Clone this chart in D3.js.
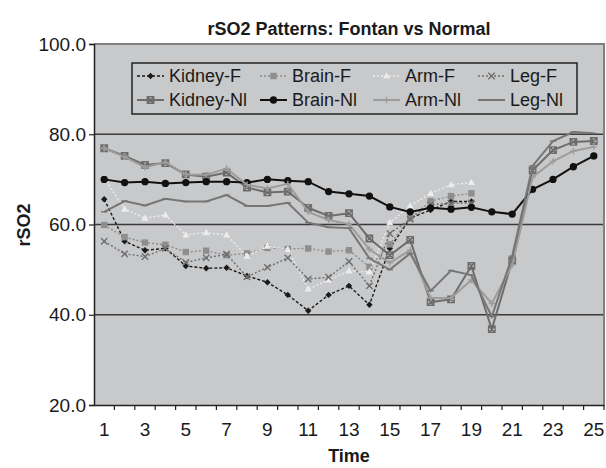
<!DOCTYPE html>
<html>
<head>
<meta charset="utf-8">
<script src="https://d3js.org/d3.v7.min.js"></script>
<style>
  body { margin: 0; background: #ffffff; }
  text { font-family: "Liberation Sans", Arial, sans-serif; }
</style>
</head>
<body>
<div id="chart"></div>
<script>
// categories (time points)
var timeLabels = [1, 2, 3, 4, 5, 6, 7, 8, 9, 10, 11, 12, 13, 14, 15, 16, 17, 18, 19, 20, 21, 22, 23, 24, 25];
var yTicks = [20, 40, 60, 80, 100];

// Fontan series
var kidneyF = [65.6, 56.3, 54.3, 54.7, 50.8, 50.3, 50.4, 48.6, 47.2, 44.4, 40.9, 44.4, 46.4, 42.2, 54.7, 61.4, 63.2, 65.1, 65.1, null, null, null, null, null, null];
var brainF  = [59.9, 57.2, 56.0, 55.5, 53.9, 54.2, 53.2, 53.6, 54.8, 54.6, 54.7, 54.0, 54.3, 50.6, 55.6, 61.4, 65.2, 66.3, 66.9, null, null, null, null, null, null];
var armF    = [70.3, 63.4, 61.4, 62.1, 57.7, 58.2, 57.7, 53.0, 55.2, 54.5, 45.7, 47.7, 49.7, 49.5, 60.4, 64.1, 66.9, 68.8, 69.3, null, null, null, null, null, null];
var legF    = [56.3, 53.5, 52.9, 54.7, 51.6, 52.6, 53.4, 48.4, 50.5, 52.6, 47.9, 48.3, 51.8, 46.4, 58.0, 61.2, 64.4, 64.7, 64.8, null, null, null, null, null, null];

// Normal series
var kidneyNl = [76.9, 75.2, 73.2, 73.6, 71.1, 70.6, 71.5, 68.2, 67.1, 67.3, 63.7, 61.9, 62.5, 56.9, 53.2, 56.6, 42.8, 43.4, 50.8, 36.8, 52.0, 72.0, 76.5, 78.3, 78.5];
var brainNl  = [70.0, 69.3, 69.5, 69.1, 69.3, 69.5, 69.5, 69.3, 70.0, 69.7, 69.5, 67.3, 66.8, 66.3, 63.9, 62.8, 63.7, 63.4, 63.8, 62.8, 62.3, 67.8, 70.0, 72.8, 75.2];
var armNl    = [76.9, 75.0, 72.7, 73.8, 71.1, 71.0, 72.4, 68.8, 68.0, 69.0, 62.8, 61.0, 60.1, 54.5, 51.5, 54.3, 43.7, 43.7, 47.7, 42.5, 51.0, 70.5, 74.0, 76.3, 77.2];
var legNl    = [62.8, 65.2, 64.2, 65.7, 65.1, 65.1, 66.5, 64.1, 64.1, 64.8, 60.4, 59.4, 59.2, 52.5, 50.0, 53.6, 45.3, 49.8, 48.8, 39.6, 53.0, 73.0, 78.5, 80.5, 80.2];

var seriesNames = ["Kidney-F", "Brain-F", "Arm-F", "Leg-F", "Kidney-Nl", "Brain-Nl", "Arm-Nl", "Leg-Nl"];
var seriesValues = [kidneyF, brainF, armF, legF, kidneyNl, brainNl, armNl, legNl];

// look of each series
var seriesStyle = [
    { color: "#1a1a1a", dash: "3,2", marker: "diamond" },
    { color: "#8e8e8e", dash: "2,2", marker: "square" },
    { color: "#ececec", dash: "2,2", marker: "triangle" },
    { color: "#6f6f6f", dash: "2,2", marker: "x" },
    { color: "#6c6c6c", dash: null,  marker: "xsquare" },
    { color: "#111111", dash: null,  marker: "circle" },
    { color: "#9c9c9c", dash: null,  marker: "plus" },
    { color: "#767676", dash: null,  marker: "dash" }
];

var margin = { top: 44, right: 2, bottom: 63, left: 94 },
    width = 606 - margin.left - margin.right,
    height = 468 - margin.top - margin.bottom;

var svg = d3.select("#chart").append("svg")
    .attr("width", 606)
    .attr("height", 468);

var g = svg.append("g")
    .attr("transform", `translate(${margin.left},${margin.top})`);

var x = d3.scaleBand()
    .domain(timeLabels)
    .range([0, width]);

var y = d3.scaleLinear()
    .domain([20, 100])
    .range([height, 0]);

// plot background
g.append("rect")
    .attr("width", width)
    .attr("height", height)
    .attr("fill", "#c8c9cb");

// grid lines
g.selectAll(".grid")
    .data(yTicks.filter(function (d) { return d > 20 && d < 100; }))
    .enter().append("line")
    .attr("x1", 0)
    .attr("x2", width)
    .attr("y1", function (d) { return y(d); })
    .attr("y2", function (d) { return y(d); })
    .attr("stroke", "#3a3a3a")
    .attr("stroke-width", 1.5);

// top and right border
g.append("path")
    .attr("d", `M0,${y(100)}H${width}V${height}`)
    .attr("fill", "none")
    .attr("stroke", "#808080")
    .attr("stroke-width", 2);

// y axis
var yAxis = g.append("g")
    .call(d3.axisLeft(y).tickValues(yTicks).tickSize(5).tickFormat(d3.format(".1f")));
yAxis.select(".domain").attr("stroke", "#222").attr("stroke-width", 1.5);
yAxis.selectAll(".tick line").attr("stroke", "#222").attr("stroke-width", 1.2);
yAxis.selectAll("text")
    .attr("x", -8)
    .style("font-size", "19px")
    .style("font-family", "Liberation Sans, Arial, sans-serif")
    .attr("fill", "#1a1a1a");

// x axis, ticks between categories
var xAxis = g.append("g")
    .attr("transform", `translate(0,${height})`)
    .call(d3.axisBottom(x).tickSize(0).tickFormat(function (d) { return d % 2 == 1 ? d : ""; }));
xAxis.select(".domain").attr("stroke", "#222").attr("stroke-width", 1.5);
xAxis.selectAll("text")
    .attr("dy", "1.0em")
    .attr("y", 12)
    .style("font-size", "19px")
    .style("font-family", "Liberation Sans, Arial, sans-serif")
    .attr("fill", "#1a1a1a");
xAxis.selectAll(".sep")
    .data(timeLabels)
    .enter().append("line")
    .attr("x1", function (d) { return x(d) + x.bandwidth(); })
    .attr("x2", function (d) { return x(d) + x.bandwidth(); })
    .attr("y1", 0)
    .attr("y2", 5)
    .attr("stroke", "#222")
    .attr("stroke-width", 1.2);

// marker shapes
function markerPath(type, s) {
    if (type == "diamond") return `M0,${-s}L${s},0L0,${s}L${-s},0Z`;
    if (type == "square") return `M${-s},${-s}H${s}V${s}H${-s}Z`;
    if (type == "triangle") return `M0,${-s * 1.2}L${s * 1.1},${s * 0.8}L${-s * 1.1},${s * 0.8}Z`;
    if (type == "circle") return d3.symbol().type(d3.symbolCircle).size(s * s * 3.6)();
    return "";
}

function drawMarker(sel, st, cx, cy) {
    var s = 3.2;
    if (st.marker == "x" || st.marker == "xsquare" || st.marker == "plus" || st.marker == "dash") {
        var p;
        if (st.marker == "plus") p = `M${-s},0H${s}M0,${-s}V${s}`;
        else if (st.marker == "dash") p = `M${-s},0H${s}`;
        else p = `M${-s},${-s}L${s},${s}M${-s},${s}L${s},${-s}`;
        if (st.marker == "xsquare") p += `M${-s},${-s}H${s}V${s}H${-s}Z`;
        sel.append("path")
            .attr("transform", `translate(${cx},${cy})`)
            .attr("d", p)
            .attr("fill", "none")
            .attr("stroke", st.color)
            .attr("stroke-width", 1.4);
    } else {
        sel.append("path")
            .attr("transform", `translate(${cx},${cy})`)
            .attr("d", markerPath(st.marker, st.marker == "circle" ? 3.4 : s))
            .attr("fill", st.color)
            .attr("stroke", "none");
    }
}

var line = d3.line()
    .defined(function (d) { return d[1] != null; })
    .x(function (d) { return x(d[0]) + x.bandwidth() / 2; })
    .y(function (d) { return y(d[1]); });

// lines and markers
seriesValues.forEach(function (vals, i) {
    var st = seriesStyle[i];
    var pts = timeLabels.map(function (t, j) { return [t, vals[j]]; });
    var sg = g.append("g").attr("class", "series-" + i);
    sg.append("path")
        .datum(pts)
        .attr("fill", "none")
        .attr("stroke", st.color)
        .attr("stroke-width", st.dash ? 1.4 : 2)
        .attr("stroke-dasharray", st.dash)
        .attr("d", line);
    pts.filter(function (d) { return d[1] != null; }).forEach(function (d) {
        drawMarker(sg, st, x(d[0]) + x.bandwidth() / 2, y(d[1]));
    });
});

// legend
var legendCols = [137, 260, 373, 478];
var legendRows = [76, 100];
svg.append("rect")
    .attr("x", 132)
    .attr("y", 63)
    .attr("width", 445)
    .attr("height", 51)
    .attr("fill", "#c8c9cb")
    .attr("stroke", "#222")
    .attr("stroke-width", 1.5);

seriesNames.forEach(function (name, i) {
    var st = seriesStyle[i];
    var lx = legendCols[i % 4];
    var ly = legendRows[Math.floor(i / 4)];
    var lg = svg.append("g");
    lg.append("line")
        .attr("x1", lx)
        .attr("x2", lx + 27)
        .attr("y1", ly)
        .attr("y2", ly)
        .attr("stroke", st.color)
        .attr("stroke-width", st.dash ? 1.4 : 2)
        .attr("stroke-dasharray", st.dash);
    drawMarker(lg, st, lx + 13.5, ly);
    lg.append("text")
        .attr("x", lx + 32)
        .attr("y", ly)
        .attr("dy", "0.35em")
        .style("font-size", "18px")
        .attr("fill", "#1a1a1a")
        .text(name);
});

// title
svg.append("text")
    .attr("x", 349)
    .attr("y", 35)
    .attr("text-anchor", "middle")
    .style("font-size", "18px")
    .style("font-weight", "bold")
    .attr("fill", "#1a1a1a")
    .text("rSO2 Patterns: Fontan vs Normal");

// axis titles
svg.append("text")
    .attr("x", 349)
    .attr("y", 462)
    .attr("text-anchor", "middle")
    .style("font-size", "18px")
    .style("font-weight", "bold")
    .attr("fill", "#1a1a1a")
    .text("Time");

svg.append("text")
    .attr("transform", "translate(30,225) rotate(-90)")
    .attr("text-anchor", "middle")
    .style("font-size", "18px")
    .style("font-weight", "bold")
    .attr("fill", "#1a1a1a")
    .text("rSO2");
</script>
</body>
</html>
